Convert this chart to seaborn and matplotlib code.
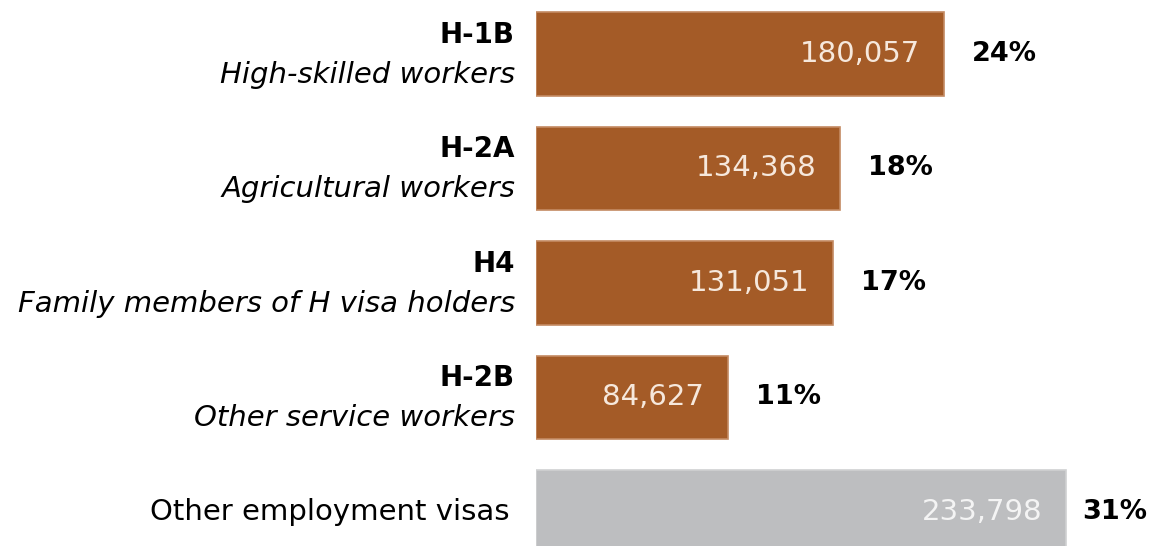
import numpy as np
import pandas as pd
import seaborn as sns
from matplotlib import pyplot as plt
import matplotlib.transforms as mtransforms

# data
codes = ['H-1B', 'H-2A', 'H4', 'H-2B', '']
descriptions = ['High-skilled workers', 'Agricultural workers',
                'Family members of H visa holders', 'Other service workers',
                'Other employment visas']
counts = [180057, 134368, 131051, 84627, 233798]
shares = [24, 18, 17, 11, 31]

brown = '#A45B27'
grey = '#BDBEC0'
bar_colors = [brown, brown, brown, brown, grey]

df = pd.DataFrame({'label': descriptions, 'count': counts})

sns.set_style('white')
plt.rcParams['font.family'] = ['DejaVu Sans']

fig = plt.figure(figsize=(11.53, 5.46), dpi=100)
ax = fig.add_axes([536 / 1153, 0, 617 / 1153, 1])

sns.barplot(data=df, x='count', y='label', hue='label', legend=False,
            palette=dict(zip(descriptions, bar_colors)), orient='h',
            saturation=1, width=0.73, edgecolor='#C48A62', linewidth=1.2, ax=ax)
for patch, c in zip(ax.patches, bar_colors):
    if c == grey:
        patch.set_edgecolor('#D0D1D2')

ax.set_xlim(0, 272300)
ax.set_ylim(4.297, -0.4716)
ax.axis('off')

fs = 21
lab_tr = mtransforms.blended_transform_factory(fig.transFigure, ax.transData)
for i in range(len(counts)):
    is_grey = bar_colors[i] == grey
    # value inside bar
    inner_col = '#F4F4F4' if is_grey else '#F6E8DC'
    ax.annotate(f'{counts[i]:,}', xy=(counts[i], i), xytext=(-17, 0),
                textcoords='offset points', ha='right', va='center',
                fontsize=fs, color=inner_col)
    # share outside bar
    ax.annotate(f'{shares[i]}%', xy=(counts[i], i),
                xytext=(12 if is_grey else 20, 0),
                textcoords='offset points', ha='left', va='center',
                fontsize=fs - 1.5, fontweight='bold', color='black')
    # category labels
    if codes[i]:
        ax.annotate(codes[i], xy=(515 / 1153, i), xycoords=lab_tr,
                    xytext=(0, 14), textcoords='offset points',
                    ha='right', va='center', fontsize=fs - 1,
                    fontweight='bold', color='black')
        ax.annotate(descriptions[i], xy=(515 / 1153, i), xycoords=lab_tr,
                    xytext=(0, -15), textcoords='offset points',
                    ha='right', va='center', fontsize=fs,
                    style='italic', color='black')
    else:
        ax.annotate(descriptions[i], xy=(510 / 1153, i), xycoords=lab_tr,
                    ha='right', va='center', fontsize=fs, color='black')

plt.savefig('out.png', dpi=100)
plt.close()
